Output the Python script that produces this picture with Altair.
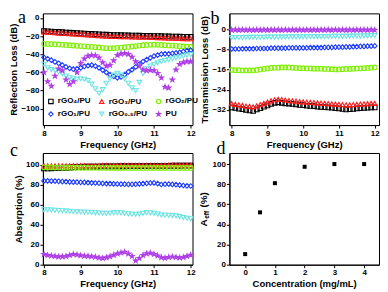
import altair as alt
import pandas as pd

FREQ = [8.0, 8.1, 8.2, 8.3, 8.4, 8.5, 8.6, 8.7, 8.8, 8.9, 9.0, 9.1, 9.2, 9.3, 9.4, 9.5, 9.6, 9.7, 9.8, 9.9,
        10.0, 10.1, 10.2, 10.3, 10.4, 10.5, 10.6, 10.7, 10.8, 10.9, 11.0, 11.1, 11.2, 11.3, 11.4, 11.5, 11.6,
        11.7, 11.8, 11.9, 12.0]

SERIES = ["rGO₄/PU", "rGO₃/PU", "rGO₂/PU", "rGO₁/PU", "rGO₀.₅/PU", "PU"]
COLORS = ["#000000", "#ff1a1a", "#7ff000", "#1f3dff", "#6fe3e3", "#b040e8"]
STAR = "M0,-1L0.235,-0.324L0.951,-0.309L0.38,0.124L0.588,0.809L0,0.4L-0.588,0.809L-0.38,0.124L-0.951,-0.309L-0.235,-0.324Z"
SHAPES = ["square", "triangle-up", "circle", "diamond", "triangle-down", STAR]
FILLS = ["transparent", "transparent", "transparent", "transparent", "transparent", "#b040e8"]
# legend fills its grid column by column: this order shows the reference's row-wise legend
LEGEND_ORDER = [0, 3, 1, 4, 2, 5]

# Panel a: reflection loss (dB)
A_RGO4 = [-14.5, -14.8, -15.0, -15.3, -15.5, -15.8, -16.1, -16.3, -16.6, -16.8, -17.0, -17.3, -17.5, -17.7, -17.9,
          -18.1, -18.3, -18.5, -18.7, -18.9, -19.0, -19.1, -19.2, -19.3, -19.4, -19.5, -19.6, -19.7, -19.8, -19.9,
          -20.0, -20.1, -20.2, -20.3, -20.4, -20.5, -20.6, -20.7, -20.8, -20.9, -21.0]
A_RGO3 = [-15.5, -15.8, -16.1, -16.4, -16.7, -17.0, -17.2, -17.5, -17.7, -17.9, -18.1, -18.4, -18.7, -19.0, -19.3,
          -19.6, -19.9, -20.1, -20.3, -20.4, -20.5, -20.6, -20.7, -20.8, -20.9, -21.0, -21.1, -21.2, -21.3, -21.4,
          -21.5, -21.7, -21.9, -22.0, -22.2, -22.4, -22.5, -22.6, -22.8, -22.9, -23.0]
A_RGO2 = [-28.5, -28.6, -28.8, -29.0, -29.2, -29.5, -29.8, -30.1, -30.4, -30.7, -31.0, -31.3, -31.6, -31.9, -32.2,
          -32.5, -32.9, -33.3, -33.5, -33.4, -33.0, -32.7, -32.3, -32.0, -31.5, -31.0, -30.5, -30.1, -29.8, -29.6,
          -29.5, -29.6, -29.8, -30.0, -30.3, -30.5, -30.8, -31.1, -31.4, -31.7, -32.0]
A_RGO1 = [-43.5, -45.0, -46.5, -48.5, -50.0, -52.0, -54.0, -55.5, -56.5, -56.0, -55.0, -53.5, -52.5, -52.0, -53.0,
          -55.0, -57.5, -60.0, -62.5, -64.5, -66.0, -65.0, -62.5, -59.5, -57.0, -54.0, -51.0, -48.0, -46.0, -44.0,
          -42.0, -41.0, -40.0, -39.5, -39.5, -39.0, -38.5, -38.0, -37.0, -36.0, -35.5]
A_RGO05 = [-51.0, -55.0, -57.0, -58.0, -59.5, -61.5, -64.0, -66.0, -67.0, -67.5, -67.0, -67.5, -69.0, -73.0, -78.0,
           -83.0, -79.0, -72.0, -67.0, -63.0, -61.0, -63.0, -67.0, -72.0, -77.0, -80.0, -71.0, -61.0, -56.0, -53.0,
           -51.0, -49.5, -48.0, -47.0, -46.0, -45.0, -44.0, -43.0, -42.0, -41.0, -40.5]
A_PU = [-60.0, -70.0, -75.0, -64.0, -56.0, -58.0, -68.0, -73.0, -70.0, -60.0, -50.0, -45.0, -42.0, -41.0, -41.5,
        -44.0, -49.0, -53.0, -52.0, -47.0, -41.0, -39.5, -39.0, -40.0, -43.0, -48.0, -53.0, -57.0, -58.0, -57.5,
        -58.0, -61.0, -66.0, -76.0, -77.0, -68.0, -57.0, -51.0, -49.0, -48.0, -48.0]

# Panel b: transmission loss (dB)
B_RGO4 = [-31.0, -31.2, -31.5, -31.7, -32.0, -32.2, -32.4, -31.8, -31.3, -30.7, -30.2, -29.6, -29.2, -29.0, -29.2,
          -29.4, -29.5, -29.6, -29.8, -30.0, -30.1, -30.3, -30.4, -30.5, -30.7, -30.8, -30.9, -31.0, -31.1, -31.3,
          -31.4, -31.6, -31.8, -31.7, -31.6, -31.4, -31.3, -31.2, -31.1, -31.0, -31.0]
B_RGO3 = [-29.5, -29.8, -30.0, -30.2, -30.5, -30.6, -30.8, -30.4, -29.9, -29.4, -28.9, -28.4, -28.0, -27.8, -27.9,
          -28.1, -28.3, -28.4, -28.5, -28.7, -28.8, -28.9, -29.0, -29.1, -29.2, -29.3, -29.4, -29.5, -29.6, -29.7,
          -29.8, -29.9, -30.0, -30.0, -29.9, -29.8, -29.7, -29.6, -29.5, -29.4, -29.4]
B_RGO2 = [-16.2, -16.3, -16.3, -16.4, -16.4, -16.4, -16.4, -16.2, -16.0, -15.8, -15.6, -15.4, -15.3, -15.3, -15.2,
          -15.2, -15.2, -15.3, -15.4, -15.5, -15.5, -15.6, -15.6, -15.7, -15.7, -15.7, -15.8, -15.8, -15.9, -16.0,
          -16.0, -15.9, -15.8, -15.8, -15.7, -15.6, -15.6, -15.5, -15.4, -15.3, -15.2]
B_RGO1 = [-7.9, -7.9, -7.9, -7.8, -7.8, -7.8, -7.8, -7.7, -7.7, -7.7, -7.7, -7.6, -7.6, -7.6, -7.6, -7.6, -7.5,
          -7.5, -7.5, -7.5, -7.5, -7.5, -7.4, -7.4, -7.4, -7.4, -7.3, -7.3, -7.3, -7.2, -7.2, -7.2, -7.1, -7.1,
          -7.0, -7.0, -6.9, -6.9, -6.8, -6.8, -6.7]
B_RGO05 = [-3.4, -3.4, -3.4, -3.4, -3.3, -3.3, -3.3, -3.3, -3.3, -3.3, -3.2, -3.2, -3.2, -3.2, -3.2, -3.2, -3.1,
           -3.1, -3.1, -3.1, -3.1, -3.1, -3.0, -3.0, -3.0, -3.0, -3.0, -3.0, -2.9, -2.9, -2.9, -2.9, -2.9, -2.8,
           -2.8, -2.8, -2.8, -2.7, -2.7, -2.6, -2.6]
B_PU = [-0.4, -0.3, -0.4, -0.3, -0.4, -0.3, -0.4, -0.3, -0.4, -0.3, -0.4, -0.3, -0.4, -0.3, -0.4, -0.3, -0.4,
        -0.3, -0.4, -0.3, -0.4, -0.3, -0.4, -0.3, -0.4, -0.3, -0.4, -0.3, -0.4, -0.3, -0.4, -0.3, -0.4, -0.3,
        -0.4, -0.3, -0.4, -0.3, -0.4, -0.3, -0.4]

# Panel c: absorption (%)
C_RGO4 = [96.5, 96.6, 96.7, 96.8, 96.9, 97.0, 97.2, 97.4, 97.7, 98.0, 98.1, 98.2, 98.3, 98.3, 98.4, 98.4, 98.5,
          98.5, 98.5, 98.6, 98.6, 98.7, 98.7, 98.8, 98.8, 98.8, 98.9, 98.9, 98.9, 99.0, 99.0, 99.0, 99.1, 99.1,
          99.1, 99.2, 99.2, 99.2, 99.3, 99.3, 99.3]
C_RGO3 = [99.0, 99.0, 99.1, 99.1, 99.1, 99.2, 99.2, 99.2, 99.3, 99.3, 99.3, 99.4, 99.4, 99.4, 99.4, 99.5, 99.5,
          99.5, 99.5, 99.5, 99.6, 99.6, 99.6, 99.6, 99.6, 99.6, 99.7, 99.7, 99.7, 99.7, 99.7, 99.7, 99.7, 99.8,
          99.8, 99.8, 99.8, 99.8, 99.8, 99.8, 99.8]
C_RGO2 = [97.6, 97.5, 97.5, 97.4, 97.4, 97.3, 97.3, 97.3, 97.2, 97.2, 97.2, 97.2, 97.1, 97.1, 97.1, 97.1, 97.1,
          97.0, 97.0, 97.0, 97.0, 97.0, 97.0, 97.0, 97.0, 97.0, 97.0, 97.0, 97.0, 97.0, 97.0, 97.0, 97.0, 97.0,
          97.0, 97.0, 97.0, 97.0, 97.0, 97.0, 97.0]
C_RGO1 = [84.0, 84.0, 83.9, 83.8, 83.6, 83.4, 83.2, 83.0, 82.8, 82.7, 82.6, 82.5, 82.3, 82.1, 81.9, 81.7, 81.5,
          81.3, 81.2, 81.0, 80.9, 80.8, 80.7, 80.6, 80.6, 80.7, 81.0, 81.3, 81.6, 81.9, 82.0, 81.3, 80.4, 80.7,
          80.8, 80.5, 80.2, 79.8, 79.4, 79.1, 78.9]
C_RGO05 = [55.0, 55.0, 54.8, 54.5, 54.3, 54.0, 53.7, 53.4, 53.1, 52.9, 52.8, 52.8, 52.6, 52.3, 52.0, 51.8, 51.6,
           51.5, 51.6, 51.9, 52.2, 52.0, 51.5, 51.0, 50.6, 50.5, 50.8, 51.5, 52.2, 52.0, 51.5, 50.8, 49.8, 49.6,
           49.5, 49.2, 49.0, 48.2, 47.3, 46.5, 46.0]
C_PU = [10.5, 9.5, 9.0, 8.5, 8.0, 8.2, 8.5, 9.5, 10.5, 10.0, 9.3, 8.8, 8.6, 8.3, 7.8, 7.0, 6.5, 7.2, 8.2, 9.6,
        11.0, 12.0, 12.7, 11.0, 8.5, 4.0, 6.5, 9.5, 11.2, 11.7, 10.5, 9.0, 7.3, 6.8, 7.5, 8.0, 7.5, 7.0, 7.5, 8.5,
        9.6]

# Panel d: effective absorption vs concentration
CONC = [0, 0.5, 1, 2, 3, 4]
AEFF = [10.5, 52, 81, 97.3, 100, 100]

FREQ_TICKS = [8, 8.5, 9, 9.5, 10, 10.5, 11, 11.5, 12]
FONT = "Liberation Sans"
W, H = 150, 112

DOM = [SERIES[i] for i in LEGEND_ORDER]
DOM_COLORS = [COLORS[i] for i in LEGEND_ORDER]
DOM_SHAPES = [SHAPES[i] for i in LEGEND_ORDER]
DOM_FILLS = [FILLS[i] for i in LEGEND_ORDER]


def long_df(cols):
    rows = []
    for name, vals in zip(SERIES, cols):
        for f, v in zip(FREQ, vals):
            rows.append({"freq": f, "value": v, "series": name})
    return pd.DataFrame(rows)


def letter(txt, x, y):
    return alt.Chart(pd.DataFrame({"t": [txt]})).mark_text(
        font="Liberation Serif", fontSize=18, align="left", baseline="alphabetic", color="black"
    ).encode(text="t:N", x=alt.value(x), y=alt.value(y))


def freq_panel(cols, xdom, ydom, yticks, ytitle, legend=None):
    return alt.Chart(long_df(cols)).mark_point(filled=False, size=22, strokeWidth=1.1, opacity=1).encode(
        x=alt.X("freq:Q", scale=alt.Scale(domain=xdom, nice=False, zero=False),
                axis=alt.Axis(values=FREQ_TICKS, format="d",
                              labelExpr="datum.value % 1 == 0 ? datum.label : ''",
                              title="Frequency (GHz)")),
        y=alt.Y("value:Q", scale=alt.Scale(domain=ydom, nice=False, zero=False),
                axis=alt.Axis(values=yticks, title=ytitle)),
        color=alt.Color("series:N", scale=alt.Scale(domain=DOM, range=DOM_COLORS), legend=legend),
        shape=alt.Shape("series:N", scale=alt.Scale(domain=DOM, range=DOM_SHAPES), legend=legend),
        fill=alt.Fill("series:N", scale=alt.Scale(domain=DOM, range=DOM_FILLS), legend=legend),
    )


leg = alt.Legend(orient="none", legendX=4, legendY=84, columns=3, title=None, labelFont=FONT,
                 labelFontSize=8, labelFontWeight="bold", labelColor="black", symbolSize=20,
                 symbolStrokeWidth=1.1, columnPadding=6, rowPadding=3, labelOffset=3, padding=0)

pa = alt.layer(
    freq_panel([A_RGO4, A_RGO3, A_RGO2, A_RGO1, A_RGO05, A_PU], [7.97, 12.05], [-118, 5],
               [0, -20, -40, -60, -80, -100], "Reflection Loss (dB)", legend=leg),
    letter("a", -25, 10),
).properties(width=W, height=H)

pb = alt.layer(
    freq_panel([B_RGO4, B_RGO3, B_RGO2, B_RGO1, B_RGO05, B_PU], [7.935, 12.12], [-38, 6.2],
               [0, -8, -16, -24, -32], "Transmission Loss (dB)"),
    letter("b", -19, 11),
).properties(width=W, height=H)

pc = alt.layer(
    freq_panel([C_RGO4, C_RGO3, C_RGO2, C_RGO1, C_RGO05, C_PU], [7.97, 12.05], [0, 112],
               [0, 20, 40, 60, 80, 100], "Absorption (%)"),
    letter("c", -33, 3),
).properties(width=W, height=H)

d_points = alt.Chart(pd.DataFrame({"conc": CONC, "aeff": AEFF})).mark_square(size=16, color="black", opacity=1).encode(
    x=alt.X("conc:Q", scale=alt.Scale(domain=[-0.53, 4.5], nice=False, zero=False),
            axis=alt.Axis(values=[0, 1, 2, 3, 4], format="d", title="Concentration (mg/mL)")),
    y=alt.Y("aeff:Q", scale=alt.Scale(domain=[0, 111], nice=False, zero=False),
            axis=alt.Axis(values=[0, 20, 40, 60, 80, 100], title=None)),
)


def ytxt(txt, size, x, y):
    return alt.Chart(pd.DataFrame({"t": [txt]})).mark_text(
        font=FONT, fontSize=size, fontWeight="bold", angle=270, align="center", baseline="middle", color="black"
    ).encode(text="t:N", x=alt.value(x), y=alt.value(y))


pd_ = alt.layer(
    d_points,
    letter("d", -13, 1),
    ytxt("A", 10, -25, 70),
    ytxt("eff", 6.5, -22, 62),
    ytxt("(%)", 10, -25, 47),
).properties(width=W, height=H)

chart = alt.concat(pa, pb, pc, pd_, columns=2, spacing={"row": 28, "column": 37}, bounds="flush").resolve_scale(
    color="independent", shape="independent", fill="independent"
).resolve_legend(
    color="independent", shape="independent", fill="independent"
).properties(padding=0).configure_view(
    stroke="black", strokeWidth=1
).configure_axis(
    labelFont=FONT, labelFontWeight="bold", labelFontSize=8, labelColor="black", labelPadding=1,
    titleFont=FONT, titleFontWeight="bold", titleFontSize=9.5, titleColor="black", titlePadding=2,
    domainColor="black", tickColor="black", tickSize=3, grid=False,
)

chart.save("out.html", embed_options={"renderer": "svg", "actions": False})
